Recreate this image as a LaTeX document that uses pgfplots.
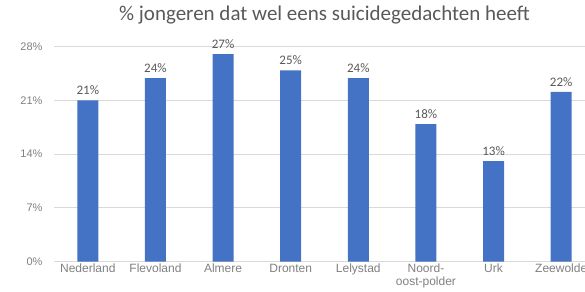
\documentclass[border=0pt]{standalone}
\usepackage{fontspec}
\setmainfont{Carlito}
\newfontfamily\arialf{Liberation Sans}
\usepackage{pgfplots}
\pgfplotsset{compat=1.18}
\definecolor{barblue}{HTML}{4472C4}
\definecolor{gridgray}{HTML}{D9D9D9}
\definecolor{txtgray}{HTML}{595959}
\definecolor{tickgray}{HTML}{808080}
\definecolor{lblgray}{HTML}{595959}
\begin{document}
\begin{tikzpicture}
\useasboundingbox (0,0) rectangle (585bp,292bp);
\clip (0,0) rectangle (585bp,292bp);
\begin{axis}[
  at={(54bp,30.3bp)}, anchor=south west,
  scale only axis, width=541bp, height=215.2bp,
  xmin=-0.5, xmax=7.5, ymin=0, ymax=28,
  ytick={0,7,14,21,28},
  yticklabels={0\%,7\%,14\%,21\%,28\%},
  xtick=data,
  xticklabels={Nederland,Flevoland,Almere,Dronten,Lelystad,{Noord-\\oost-polder},Urk,Zeewolde},
  x tick label style={font=\arialf\fontsize{12bp}{13bp}\selectfont, text=tickgray, align=center, yshift=1bp},
  y tick label style={font=\arialf\fontsize{11bp}{12bp}\selectfont, text=tickgray, xshift=-8bp},
  /pgf/number format/assume math mode=true,
  major tick length=0pt,
  axis line style={draw=none},
  ymajorgrids, grid style={gridgray, line width=0.9bp},
  title={\% jongeren dat wel eens suicidegedachten heeft},
  title style={font=\fontsize{21bp}{23bp}\selectfont, text=txtgray, anchor=base, at={(0.5,1)}, yshift=20.5bp},
  ybar, bar width=21bp,
  point meta=explicit symbolic,
  nodes near coords,
  nodes near coords style={font=\fontsize{13bp}{14bp}\selectfont, text=lblgray, anchor=base, yshift=5.5bp},
  clip=false,
]
\addplot[fill=barblue, draw=none] coordinates {
  (0,21.0) [21\%]
  (1,23.9) [24\%]
  (2,27.0) [27\%]
  (3,24.9) [25\%]
  (4,23.9) [24\%]
  (5,17.9) [18\%]
  (6,13.1) [13\%]
  (7,22.1) [22\%]
};
\end{axis}
\end{tikzpicture}
\end{document}
